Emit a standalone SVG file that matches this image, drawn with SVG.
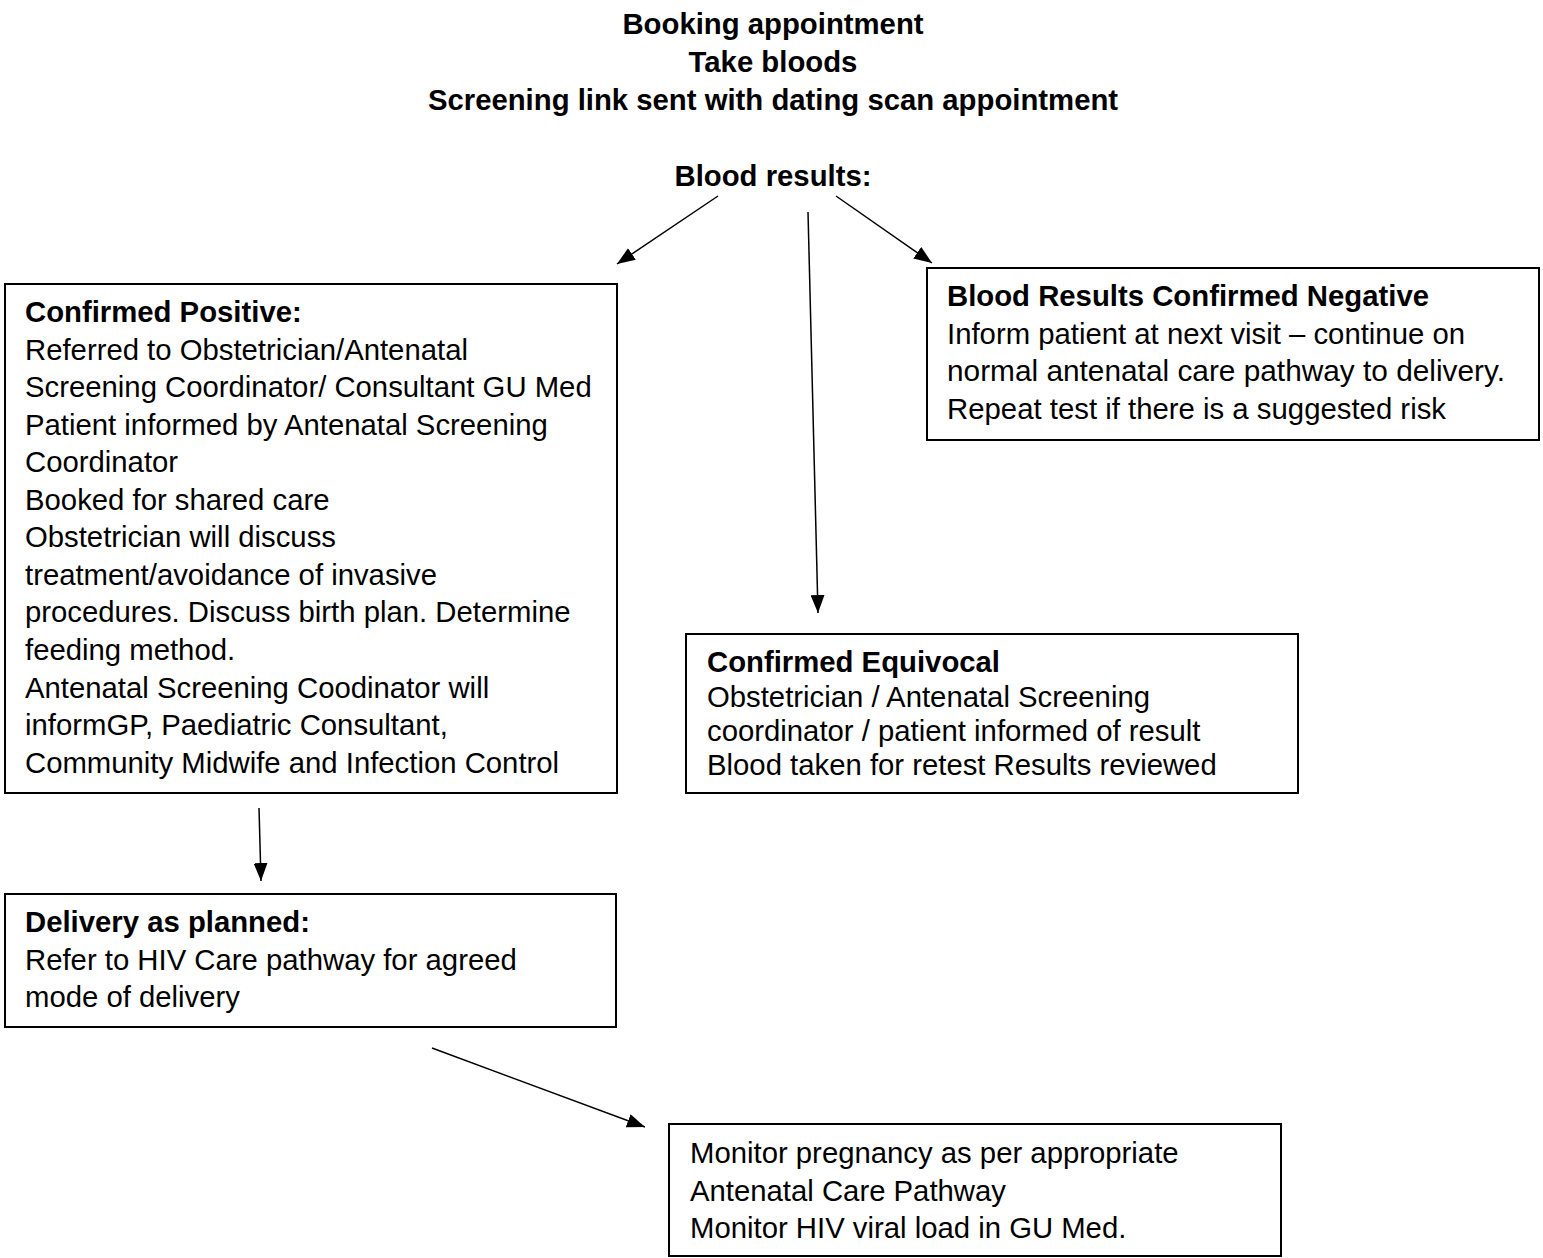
<svg xmlns="http://www.w3.org/2000/svg" width="1543" height="1258" viewBox="0 0 1543 1258">
<defs>
<marker id="ah" viewBox="0 0 18 14" refX="18" refY="7" markerWidth="18" markerHeight="14" markerUnits="userSpaceOnUse" orient="auto"><path d="M0,0 L18,7 L0,14 z" fill="#000"/></marker>
<style>
text{font-family:"Liberation Sans",Arial,sans-serif;font-size:29.3px;fill:#000}
.b{font-weight:bold}
.t{font-weight:bold;text-anchor:middle}
rect{fill:#fff;stroke:#000;stroke-width:2}
line{stroke:#000;stroke-width:1.5}
</style>
</defs>
<rect x="0" y="0" width="1543" height="1258" style="stroke:none"/>
<g id="title">
<text class="t" x="773" y="34">Booking appointment</text>
<text class="t" x="773" y="72">Take bloods</text>
<text class="t" x="773" y="110">Screening link sent with dating scan appointment</text>
<text class="t" x="773" y="186">Blood results:</text>
</g>
<g id="connectors">
<line x1="718" y1="196" x2="617" y2="264" marker-end="url(#ah)"/>
<line x1="808" y1="212" x2="818" y2="613" marker-end="url(#ah)"/>
<line x1="836" y1="196" x2="932" y2="263" marker-end="url(#ah)"/>
<line x1="259" y1="808" x2="261" y2="881" marker-end="url(#ah)"/>
<line x1="432" y1="1048" x2="645" y2="1127" marker-end="url(#ah)"/>
</g>
<g id="positive">
<rect x="5" y="284" width="612" height="509"/>
<text class="b" x="25" y="322">Confirmed Positive:</text>
<text x="25" y="360">Referred to Obstetrician/Antenatal</text>
<text x="25" y="397">Screening Coordinator/ Consultant GU Med</text>
<text x="25" y="435">Patient informed by Antenatal Screening</text>
<text x="25" y="472">Coordinator</text>
<text x="25" y="510">Booked for shared care</text>
<text x="25" y="547">Obstetrician will discuss</text>
<text x="25" y="585">treatment/avoidance of invasive</text>
<text x="25" y="622">procedures. Discuss birth plan. Determine</text>
<text x="25" y="660">feeding method.</text>
<text x="25" y="698">Antenatal Screening Coodinator will</text>
<text x="25" y="735">informGP, Paediatric Consultant,</text>
<text x="25" y="773">Community Midwife and Infection Control</text>
</g>
<g id="negative">
<rect x="927" y="268" width="612" height="172"/>
<text class="b" x="947" y="306" textLength="482" lengthAdjust="spacingAndGlyphs">Blood Results Confirmed Negative</text>
<text x="947" y="344" textLength="518" lengthAdjust="spacingAndGlyphs">Inform patient at next visit – continue on</text>
<text x="947" y="381" textLength="558" lengthAdjust="spacingAndGlyphs">normal antenatal care pathway to delivery.</text>
<text x="947" y="419" textLength="499" lengthAdjust="spacingAndGlyphs">Repeat test if there is a suggested risk</text>
</g>
<g id="equivocal">
<rect x="686" y="634" width="612" height="159"/>
<text class="b" x="707" y="672">Confirmed Equivocal</text>
<text x="707" y="707">Obstetrician / Antenatal Screening</text>
<text x="707" y="741">coordinator / patient informed of result</text>
<text x="707" y="775">Blood taken for retest Results reviewed</text>
</g>
<g id="delivery">
<rect x="5" y="894" width="611" height="133"/>
<text class="b" x="25" y="932">Delivery as planned:</text>
<text x="25" y="970">Refer to HIV Care pathway for agreed</text>
<text x="25" y="1007">mode of delivery</text>
</g>
<g id="monitor">
<rect x="669" y="1124" width="612" height="132"/>
<text x="690" y="1163">Monitor pregnancy as per appropriate</text>
<text x="690" y="1201">Antenatal Care Pathway</text>
<text x="690" y="1238">Monitor HIV viral load in GU Med.</text>
</g>
</svg>
